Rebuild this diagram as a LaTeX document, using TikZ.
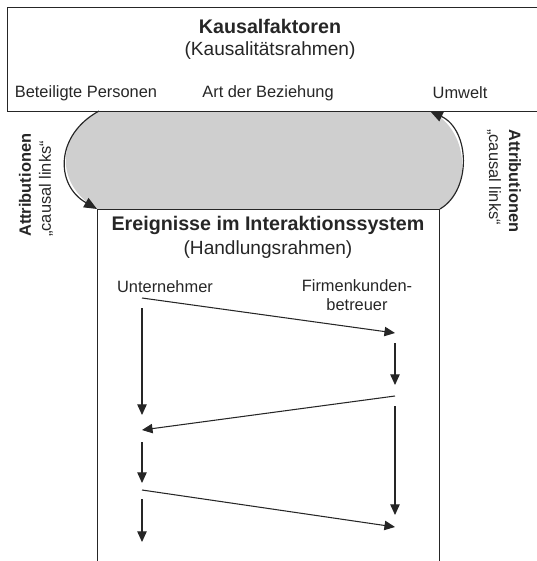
\documentclass[tikz,border=0pt]{standalone}
\usepackage{fontspec}
\setmainfont{Liberation Sans}
\usepackage{tikz}
\usetikzlibrary{arrows.meta,positioning}
\definecolor{FrameInk}{HTML}{262626}
\definecolor{OvalGray}{HTML}{CFCFCF}

\tikzset{
  frame/.style={draw=FrameInk, line width=1pt},
  lbl/.style={font=\fontsize{14}{16.5}\selectfont, text=FrameInk},
  ttl/.style={font=\fontsize{16.8}{19}\selectfont\bfseries, text=FrameInk},
  subttl/.style={font=\fontsize{16.3}{19}\selectfont, text=FrameInk},
  attr/.style={font=\fontsize{14}{17}\selectfont, text=FrameInk, align=left, inner sep=0pt},
  loop/.style={FrameInk, line width=1pt, -{Triangle[length=11pt,width=9pt]}},
  seq/.style={FrameInk, line width=0.9pt, -{Triangle[length=9pt,width=8pt]}},
}

\begin{document}
\begin{tikzpicture}[x=0.03cm, y=-0.03cm]
  \useasboundingbox (0,0) rectangle (537,561);
  % gray oval between the two frames
  \fill[OvalGray] (99,111) -- (430,111) .. controls (470,130) and (472,190) .. (440,209)
    -- (97,209) .. controls (55,185) and (55,135) .. (99,111) -- cycle;
  % Kausalitaetsrahmen
  \node[frame, anchor=north west, minimum width=16.2cm, minimum height=3.12cm] (kausal) at (7,7) {};
  \node[ttl] (kausaltitle) at (270,26) {Kausalfaktoren};
  \node[subttl] (kausalsub) at (270,51) {(Kausalitätsrahmen)};
  \node[lbl] (personen) at (86,93) {Beteiligte Personen};
  \node[lbl] (beziehung) at (268,93) {Art der Beziehung};
  \node[lbl] (umwelt) at (460,93) {Umwelt};
  % Handlungsrahmen
  \node[frame, anchor=north west, minimum width=10.26cm, minimum height=11.4cm] (ereig) at (97,209) {};
  \node[ttl] (ereigtitle) at (268,225) {Ereignisse im Interaktionssystem};
  \node[subttl] (ereigsub) at (268,250) {(Handlungsrahmen)};
  % attributions
  \coordinate (topleft) at (99,111);
  \coordinate (topright) at (430,111);
  \coordinate (botleft) at (97,209);
  \coordinate (botright) at (440,209);
  \draw[loop] (topleft) .. controls (55,135) and (55,185) .. (botleft);
  \draw[loop] (botright) .. controls (472,190) and (470,130) .. (topright);
  \node[attr, rotate=90, anchor=west] (attrleft) at (36,237)
    {\textbf{Attributionen}\\„causal links“};
  \node[attr, rotate=-90, anchor=west] (attrright) at (504,129)
    {\textbf{Attributionen}\\„causal links“};
  % actors
  \node[lbl] (unternehmer) at (165,287) {Unternehmer};
  \node[lbl, align=center] (betreuer) at (357,295) {Firmenkunden-\\betreuer};
  \foreach \n/\y in {a/298, b/308, c/415, d/430, e/442, f/483, g/490, h/499, i/542}
    {\coordinate (u\n) at (142,\y);}
  \foreach \n/\y in {a/333, b/343, c/385, d/396, e/406, f/515, g/527}
    {\coordinate (f\n) at (395,\y);}
  % message sequence
  \foreach \s/\t in {ua/fa, ub/uc, fb/fc, fd/ud, fe/ff, ue/uf, ug/fg, uh/ui}
    {\draw[seq] (\s) -- (\t);}
\end{tikzpicture}
\end{document}
